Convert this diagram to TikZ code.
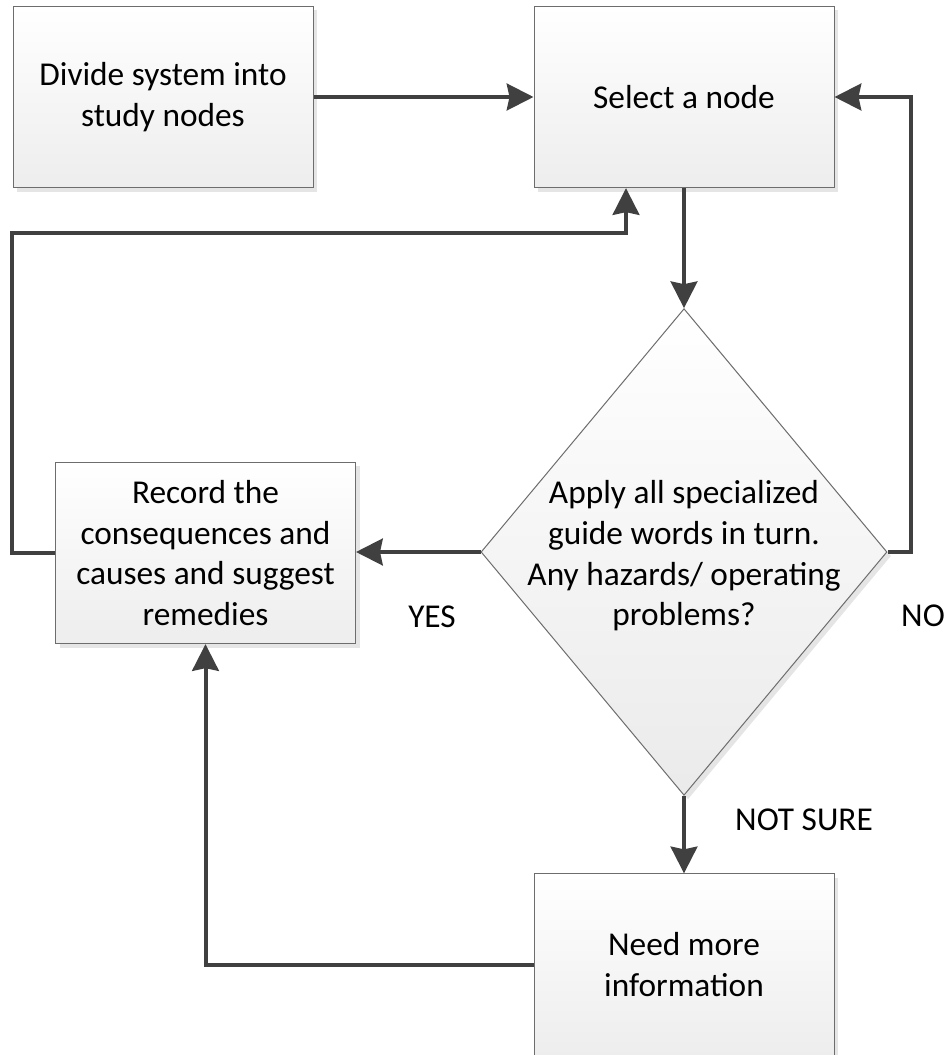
\documentclass[tikz,border=0pt]{standalone}
\usepackage{fontspec}
\setmainfont{Carlito}
\usepackage{xcolor}
\usepackage{tikz}
\usetikzlibrary{positioning, arrows.meta, shapes.geometric, calc, shadows}

\definecolor{edgegray}{HTML}{6D6D6D}
\definecolor{flowgray}{HTML}{404040}

\begin{document}
\begin{tikzpicture}[
    x=0.75pt, y=-0.75pt,
    every node/.style={font=\fontsize{25}{30.5}\selectfont},
    stepbox/.style={
      draw=edgegray,
      line width=0.75pt,
      rectangle,
      align=center,
      minimum width=225pt,
      minimum height=136pt,
      top color=white,
      bottom color=black!7,
      drop shadow={shadow xshift=3pt, shadow yshift=-3pt, fill=black!10, opacity=1}
    },
    decision/.style={
      draw=edgegray,
      line width=0.75pt,
      diamond,
      inner sep=0pt,
      minimum width=304.5pt,
      minimum height=365pt,
      top color=white,
      bottom color=black!8,
      drop shadow={shadow xshift=3pt, shadow yshift=-3pt, fill=black!10, opacity=1}
    },
    answer/.style={inner sep=1pt},
    flow/.style={
      draw=flowgray,
      line width=3pt,
      -{Stealth[length=20pt, width=20pt, inset=2pt]}
    }
  ]
  \useasboundingbox (0,0) rectangle (947,1055);

  % boxes
  \node[stepbox] (divide) at (163,97) {Divide system into\\study nodes};
  \node[stepbox] (select) at (684,97) {Select a node};
  \node[decision] (check) at (684,552) {};
  \node[align=center] (checktext) at ([yshift=-3pt]check.center)
    {Apply all specialized\\guide words in turn.\\Any hazards/ operating\\problems?};
  \node[stepbox] (record) at (205.5,553)
    {Record the\\consequences and\\causes and suggest\\remedies};
  \node[stepbox] (need) at (684,964.5) {Need more\\information};

  % answers
  \node[answer] (yes) at (432,617) {YES};
  \node[answer] (no) at (923,616) {NO};
  \node[answer] (notsure) at (804,820) {NOT SURE};

  \coordinate (loop) at (12,233);

  % connectors
  \draw[flow] (divide) -- (select);
  \draw[flow] (select) -- (check);
  \draw[flow] (check.west) -- (check.west -| record.east);
  \draw[flow] (check.east) -- ++(23,0) |- (select.east);
  \draw[flow] (check) -- (need);
  \draw[flow] (record.west) -| (loop) -| ([xshift=-43.5pt]select.south);
  \draw[flow] (need.west) -| (record.south);
\end{tikzpicture}
\end{document}
